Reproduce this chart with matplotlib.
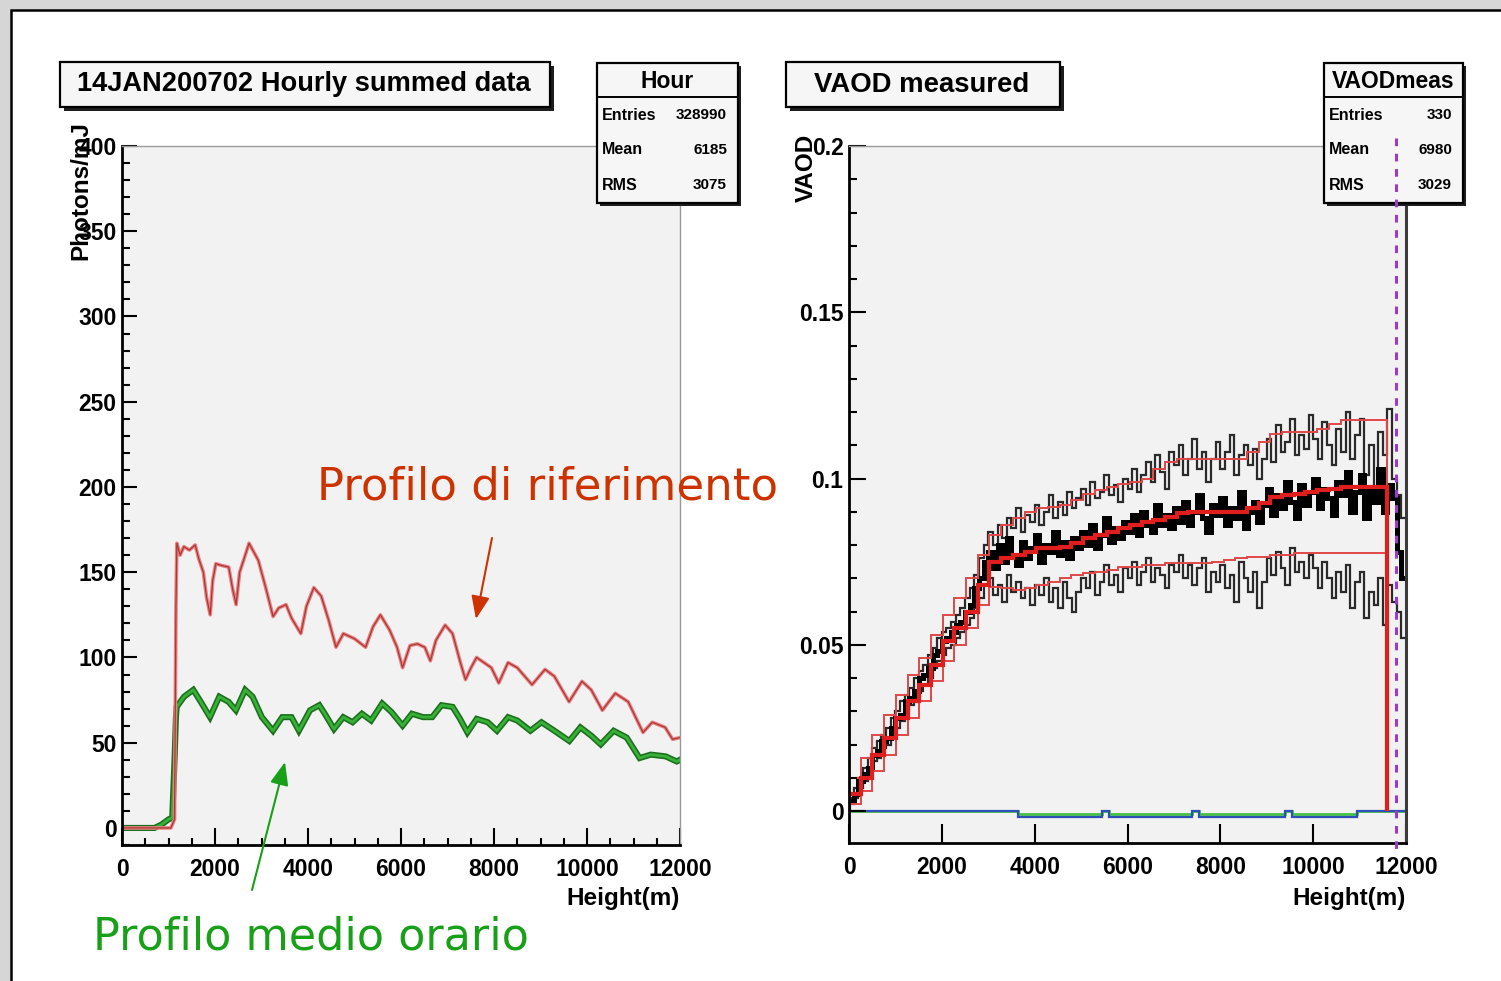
import numpy as np
import matplotlib
matplotlib.use('Agg')
import matplotlib.pyplot as plt
from matplotlib.patches import Rectangle
from matplotlib.lines import Line2D
from matplotlib.ticker import MultipleLocator, FuncFormatter
import matplotlib.transforms as mtransforms

# ------------------------------------------------------------------ data
# Left panel: photons/mJ vs height
ref_height = [0, 1050, 1130, 1160, 1180, 1250, 1330, 1450, 1574, 1650, 1749, 1820, 1897, 1950,
              2017, 2136, 2295, 2380, 2454, 2530, 2650, 2732, 2831, 2931, 3090, 3249, 3369, 3528,
              3647, 3846, 3966, 4125, 4284, 4443, 4602, 4761, 5000, 5239, 5398, 5557, 5756, 5915,
              6034, 6193, 6352, 6511, 6631, 6750, 6949, 7108, 7267, 7386, 7506, 7625, 7784, 7943,
              8102, 8301, 8500, 8659, 8818, 9097, 9296, 9614, 9892, 10091, 10330, 10608, 10886,
              11204, 11403, 11681, 11840, 12000]
ref_photons = [0, 0, 5, 130, 167, 160, 165, 163, 166, 158, 150, 135, 125, 145,
               155, 154, 153, 140, 131, 150, 160, 167, 162, 157, 141, 124, 129, 131,
               123, 114, 130, 141, 136, 122, 106, 114, 111, 106, 118, 125, 116, 106,
               94, 107, 108, 106, 98, 110, 119, 114, 98, 87, 94, 100, 97, 94,
               85, 97, 94, 89, 84, 93, 89, 74, 86, 81, 69, 79, 74,
               56, 62, 59, 52, 53]

hour_height = [0, 700, 850, 1000, 1080, 1130, 1160, 1176, 1335, 1533, 1693, 1892, 2092, 2290,
               2449, 2649, 2808, 3008, 3247, 3445, 3645, 3804, 4043, 4243, 4361, 4559, 4759,
               4959, 5159, 5357, 5596, 5795, 6034, 6234, 6473, 6671, 6871, 7110, 7269, 7428,
               7627, 7866, 8064, 8303, 8502, 8782, 9021, 9299, 9619, 9858, 10097, 10295, 10574,
               10853, 11131, 11370, 11690, 11929, 12000]
hour_photons = [0, 0, 2, 5, 6, 40, 65, 71, 77, 81, 74, 65, 77, 74,
                69, 81, 77, 65, 57, 65, 65, 57, 69, 72, 67, 58, 65,
                62, 67, 63, 73, 68, 60, 67, 65, 65, 72, 71, 64, 56,
                64, 62, 57, 65, 63, 57, 62, 57, 51, 59, 54, 49, 57,
                53, 41, 43, 42, 39, 40]

# Right panel: VAOD (x1000) in 100 m height bins
vaod_edges = np.arange(0, 12001, 100)
vaod_mean_milli = [3, 5, 9, 11, 13, 17, 18, 21, 22, 25, 28, 29, 33, 34, 36, 40, 41, 43, 47, 48,
                   51, 52, 54, 56, 57, 60, 62, 67, 70, 75,
                   78, 73, 80, 75, 82, 77, 74, 81, 76, 79,
                   83, 75, 80, 78, 84, 77, 81, 76, 82, 79,
                   84, 80, 86, 79, 83, 88, 81, 85, 82, 87,
                   84, 89, 83, 90, 86, 84, 92, 86, 89, 85,
                   91, 87, 93, 86, 90, 95, 88, 84, 92, 89,
                   94, 86, 91, 88, 96, 85, 90, 93, 87, 92,
                   97, 89, 95, 91, 99, 93, 88, 98, 92, 96,
                   100, 91, 97, 94, 89, 99, 95, 102, 90, 96,
                   101, 88, 97, 93, 103, 90, 98, 94, 78, 70]
vaod_upper_milli = [4, 7, 10, 13, 16, 19, 21, 23, 25, 28, 30, 33, 35, 37, 40, 42, 44, 47, 49, 52,
                    54, 55, 57, 59, 61, 64, 67, 71, 76, 80,
                    84, 80, 86, 82, 88, 85, 91, 84, 89, 87,
                    92, 86, 90, 95, 88, 93, 89, 96, 91, 94,
                    97, 92, 99, 94, 96, 101, 95, 98, 93, 100,
                    97, 103, 96, 101, 105, 99, 107, 102, 97, 108,
                    104, 110, 101, 106, 112, 103, 108, 99, 106, 111,
                    103, 108, 113, 101, 107, 110, 104, 109, 100, 106,
                    112, 105, 116, 108, 111, 118, 107, 113, 109, 119,
                    112, 106, 117, 110, 104, 115, 108, 120, 106, 113,
                    118, 101, 110, 96, 114, 107, 121, 100, 95, 88]
vaod_lower_milli = [2, 4, 7, 9, 12, 15, 16, 19, 20, 22, 25, 27, 30, 32, 33, 36, 38, 40, 43, 45,
                    47, 49, 50, 52, 54, 56, 58, 61, 64, 68,
                    70, 65, 68, 63, 71, 66, 69, 64, 67, 62,
                    68, 65, 70, 63, 67, 61, 69, 64, 60, 66,
                    70, 67, 72, 65, 69, 74, 68, 71, 66, 73,
                    70, 75, 68, 72, 76, 69, 73, 71, 67, 74,
                    72, 77, 70, 74, 68, 73, 76, 66, 72, 69,
                    74, 67, 71, 63, 75, 70, 66, 72, 61, 69,
                    76, 71, 78, 73, 68, 79, 72, 75, 70, 77,
                    73, 67, 75, 70, 64, 72, 66, 74, 61, 69,
                    72, 58, 66, 62, 70, 56, 68, 63, 60, 52]

# Reference VAOD profiles (x1000), 46 bins from 0 to 11600 m
ref_edges = np.linspace(0, 11600, 47)
ref_center_milli = [5, 10, 17, 22, 28, 33, 38, 44, 51, 55, 60, 68,
                    75, 76, 77, 78, 79, 79, 79.5, 80.5,
                    82, 83, 84, 85, 86, 87, 87.5, 88.5,
                    89.5, 90, 90, 90, 90, 90, 91, 92.5,
                    94.5, 95, 95.5, 96, 96.5, 97, 97.5, 97.5, 97.5, 97.5]
ref_upper_milli = [10, 16, 23, 29, 35, 41, 46, 53, 59, 64, 70, 77,
                   83, 86, 88, 90, 91, 91.5, 92, 93.5,
                   95.5, 96.5, 97.5, 98.5, 99, 100, 103, 105,
                   106, 106, 106, 106, 106, 106, 108, 111,
                   113.5, 114, 114, 114, 115, 116.5, 117.5, 117.5, 117.5, 117.5]
ref_lower_milli = [2, 6, 12, 17, 23, 28, 33, 39, 45, 50, 55, 62,
                   67.5, 67, 66.5, 67, 68, 69, 70, 71,
                   71.5, 72, 72.5, 73.5, 73.5, 74, 74, 74.5,
                   74.5, 74.5, 74.5, 75, 75.5, 76, 76.5, 76.5,
                   77, 77, 77.5, 77.5, 77.5, 77.5, 77.5, 77.5, 77.5, 77.5]

# Baseline (sigma) lines
base_edges = [0, 3650, 5450, 5600, 7400, 7550, 9400, 9550, 10950, 12000]
base_blue_milli = [0, -1.8, 0, -1.8, 0, -1.8, 0, -1.8, 0]
base_green_milli = [0, -0.8, 0, -0.8, 0, -0.8, 0, -0.8, 0]
cut_height = 11790

left_stats = [("Entries", "328990"), ("Mean", "6185"), ("RMS", "3075")]
right_stats = [("Entries", "330"), ("Mean", "6980"), ("RMS", "3029")]

# ------------------------------------------------------------------ figure
W, H = 1501, 981
plt.rcParams['font.family'] = 'Liberation Sans'
plt.rcParams['font.weight'] = 'bold'
fig = plt.figure(figsize=(W / 100, H / 100), dpi=100)
fig.patch.set_facecolor('#d6d6d6')


def fx(px):
    return px / W


def fy(py):
    return 1 - py / H


tf = fig.transFigure
# white page panel
fig.add_artist(Rectangle((fx(11), fy(990)), fx(1510) - fx(11), fy(10) - fy(990), transform=tf,
                         facecolor='white', edgecolor='black', lw=1.8, zorder=-5))


def style_axes(ax):
    ax.set_facecolor('#f2f2f2')
    for s in ('left', 'bottom'):
        ax.spines[s].set_linewidth(2.0)
        ax.spines[s].set_color('black')
    for s in ('top', 'right'):
        ax.spines[s].set_linewidth(1.0)
        ax.spines[s].set_color('#9a9a9a')
    ax.tick_params(which='both', direction='in', width=1.5, labelsize=16.5, colors='black')


# ---------------- left panel
ax1 = fig.add_axes([fx(122), fy(845), fx(680) - fx(122), fy(146) - fy(845)])
style_axes(ax1)
ax1.set_xlim(0, 12000)
ax1.set_ylim(-10, 400)
ax1.xaxis.set_major_locator(MultipleLocator(2000))
ax1.xaxis.set_minor_locator(MultipleLocator(500))
ax1.yaxis.set_major_locator(MultipleLocator(50))
ax1.yaxis.set_minor_locator(MultipleLocator(10))
ax1.tick_params(axis='x', which='major', length=12, pad=9)
ax1.tick_params(axis='x', which='minor', length=5)
ax1.tick_params(axis='y', which='major', length=11, pad=4)
ax1.tick_params(axis='y', which='minor', length=5.5)

ax1.plot(hour_height, hour_photons, color='#1c6f1c', lw=4.4, solid_joinstyle='miter')
ax1.plot(hour_height, hour_photons, color='#36b036', lw=2.1)
ax1.plot(ref_height, ref_photons, color='#ec8080', lw=2.6)
ax1.plot(ref_height, ref_photons, color='#a83838', lw=0.9)

# ---------------- right panel
ax2 = fig.add_axes([fx(849), fy(843), fx(1406) - fx(849), fy(146) - fy(843)])
style_axes(ax2)
ax2.spines['right'].set_color('#3a3a3a')
ax2.spines['right'].set_linewidth(2.2)
ax2.set_xlim(0, 12000)
ax2.set_ylim(-0.0096, 0.2)
ax2.xaxis.set_major_locator(MultipleLocator(2000))
ax2.yaxis.set_major_locator(MultipleLocator(0.05))
ax2.yaxis.set_minor_locator(MultipleLocator(0.01))
ax2.yaxis.set_major_formatter(FuncFormatter(lambda v, p: '%g' % round(v, 3)))
ax2.tick_params(axis='x', which='major', length=14, pad=9)
ax2.tick_params(axis='y', which='major', length=12, pad=4)
ax2.tick_params(axis='y', which='minor', length=5.5)

m = 0.001
ax2.stairs(np.array(base_green_milli) * m, base_edges, color='#44c044', lw=2.0, baseline=None)
ax2.stairs(np.array(base_blue_milli) * m, base_edges, color='#2f4fb8', lw=1.6, baseline=None)
ax2.stairs(np.array(vaod_upper_milli) * m, vaod_edges, color='#2a2a2a', lw=1.6, baseline=None)
ax2.stairs(np.array(vaod_lower_milli) * m, vaod_edges, color='#2a2a2a', lw=1.6, baseline=None)
ax2.stairs(np.array(vaod_mean_milli) * m, vaod_edges, color='black', lw=3.6, baseline=None)
ax2.stairs(np.array(ref_upper_milli) * m, ref_edges, color='#e04848', lw=1.4, baseline=0)
ax2.stairs(np.array(ref_lower_milli) * m, ref_edges, color='#e04848', lw=1.4, baseline=0)
ax2.stairs(np.array(ref_center_milli) * m, ref_edges, color='#e01e1e', lw=3.0, baseline=0)

# dashed cut line (drawn above the stats box)
bt = mtransforms.blended_transform_factory(ax2.transData, tf)
fig.add_artist(Line2D([cut_height, cut_height], [fy(138), fy(856)], transform=bt,
                      color='#9a3cc8', lw=2.2, ls=(0, (2.5, 2.5)), zorder=6))

# ---------------- boxes


def box(x0, y0, x1, y1, sh=4):
    fig.add_artist(Rectangle((fx(x0 + sh), fy(y1 + sh)), fx(x1) - fx(x0), fy(y0) - fy(y1),
                             transform=tf, facecolor='#1e1e1e', edgecolor='none', zorder=1.9))
    fig.add_artist(Rectangle((fx(x0), fy(y1)), fx(x1) - fx(x0), fy(y0) - fy(y1),
                             transform=tf, facecolor='#f6f6f6', edgecolor='black', lw=1.6,
                             zorder=2))


def stats_box(x0, x1, title, rows):
    box(x0, 63, x1, 203, sh=3)
    fig.add_artist(Line2D([fx(x0), fx(x1)], [fy(97), fy(97)], transform=tf, color='black',
                          lw=1.4, zorder=2.5))
    fig.text(fx((x0 + x1) / 2), fy(81), title, ha='center', va='center', fontsize=16.5,
             zorder=3)
    for i, (lab, val) in enumerate(rows):
        y = 115 + 35 * i
        fig.text(fx(x0 + 5), fy(y), lab, ha='left', va='center', fontsize=11.5, zorder=3)
        fig.text(fx(x1 - 11), fy(y), val, ha='right', va='center', fontsize=11, zorder=3)


box(60, 62, 550, 107)
fig.text(fx(77), fy(84), "14JAN200702 Hourly summed data", ha='left', va='center',
         fontsize=19.6, zorder=3)
box(786, 62, 1060, 107)
fig.text(fx(922), fy(85), "VAOD measured", ha='center', va='center', fontsize=19.8, zorder=3)

stats_box(597, 738, "Hour", left_stats)
stats_box(1324, 1463, "VAODmeas", right_stats)

# axis titles
fig.text(fx(81), fy(121), "Photons/mJ", rotation=90, ha='center', va='top', fontsize=17.5,
         zorder=3)
fig.text(fx(806), fy(134), "VAOD", rotation=90, ha='center', va='top', fontsize=17.5,
         zorder=3)
fig.text(fx(680), fy(898), "Height(m)", ha='right', va='center', fontsize=17.5, zorder=3)
fig.text(fx(1406), fy(898), "Height(m)", ha='right', va='center', fontsize=17.5, zorder=3)

# annotations
fig.text(fx(317), fy(500), "Profilo di riferimento", ha='left', va='baseline', fontsize=32.4,
         family='DejaVu Sans', fontweight='normal', color='#cc3300', zorder=4)
fig.text(fx(93), fy(949), "Profilo medio orario", ha='left', va='baseline', fontsize=32,
         family='DejaVu Sans', fontweight='normal', color='#18a018', zorder=4)


def arrow(tail, head, color):
    fig.add_artist(matplotlib.patches.FancyArrowPatch(
        (fx(tail[0]), fy(tail[1])), (fx(head[0]), fy(head[1])), transform=tf,
        arrowstyle='-|>,head_length=0.7,head_width=0.28', mutation_scale=20,
        color=color, lw=1.5, shrinkA=0, shrinkB=0, zorder=4))


arrow((492, 538), (476, 619), '#cc3300')
arrow((252, 890), (285, 762), '#18a018')

fig.savefig('out.png', dpi=100, facecolor=fig.get_facecolor())
